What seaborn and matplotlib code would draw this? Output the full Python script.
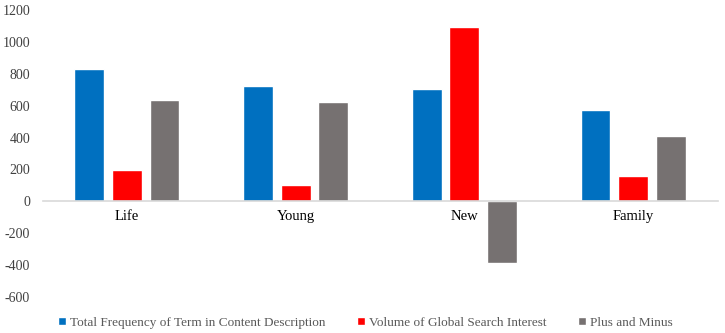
import matplotlib
matplotlib.use("Agg")
import matplotlib.pyplot as plt
import seaborn as sns
import pandas as pd

categories = ["Life", "Young", "New", "Family"]
series_names = ["Total Frequency of Term in Content Description",
                "Volume of Global Search Interest",
                "Plus and Minus"]
total_frequency = [830, 725, 705, 575]
search_volume = [195, 100, 1095, 160]
plus_minus = [635, 625, -385, 410]
y_ticks = [-600, -400, -200, 0, 200, 400, 600, 800, 1000, 1200]
colors = ["#0070C0", "#FF0000", "#767171"]

rows = []
for name, vals in zip(series_names, [total_frequency, search_volume, plus_minus]):
    for c, v in zip(categories, vals):
        rows.append({"category": c, "series": name, "value": v})
df = pd.DataFrame(rows)

sns.set_theme(style="white")
plt.rcParams["font.family"] = ["Liberation Serif", "DejaVu Serif"]

fig = plt.figure(figsize=(7.25, 3.33), dpi=100)
ax = fig.add_axes([42.5 / 725, 1 - 297 / 333, 675 / 725, 287 / 333])

sns.barplot(data=df, x="category", y="value", hue="series", order=categories,
            hue_order=series_names, palette=colors, width=0.67, gap=0.21,
            saturation=1, ax=ax, errorbar=None, legend=True)

ax.set_ylim(-600, 1200)
ax.set_xlim(-0.5, 3.5)
ax.set_yticks(y_ticks)
ax.set_yticklabels([str(t) for t in y_ticks])
ax.set_xlabel("")
ax.set_ylabel("")
for s in ["top", "right", "left"]:
    ax.spines[s].set_visible(False)
ax.spines["bottom"].set_position(("data", 0))
ax.spines["bottom"].set_color("#D9D9D9")
ax.spines["bottom"].set_linewidth(1.2)
ax.tick_params(axis="x", length=0, pad=6, labelsize=10.5, labelcolor="#000000")
ax.tick_params(axis="y", length=0, pad=9, labelsize=10, labelcolor="#404040")
ax.grid(False)

handles, labels = ax.get_legend_handles_labels()
ax.legend(handles, labels, loc="center", bbox_to_anchor=(0.478, -0.09),
          ncol=3, frameon=False, fontsize=9.5, handlelength=0.6, handleheight=0.6,
          handletextpad=0.3, columnspacing=2.4, labelcolor="#595959")

fig.savefig("out.png", dpi=100)
